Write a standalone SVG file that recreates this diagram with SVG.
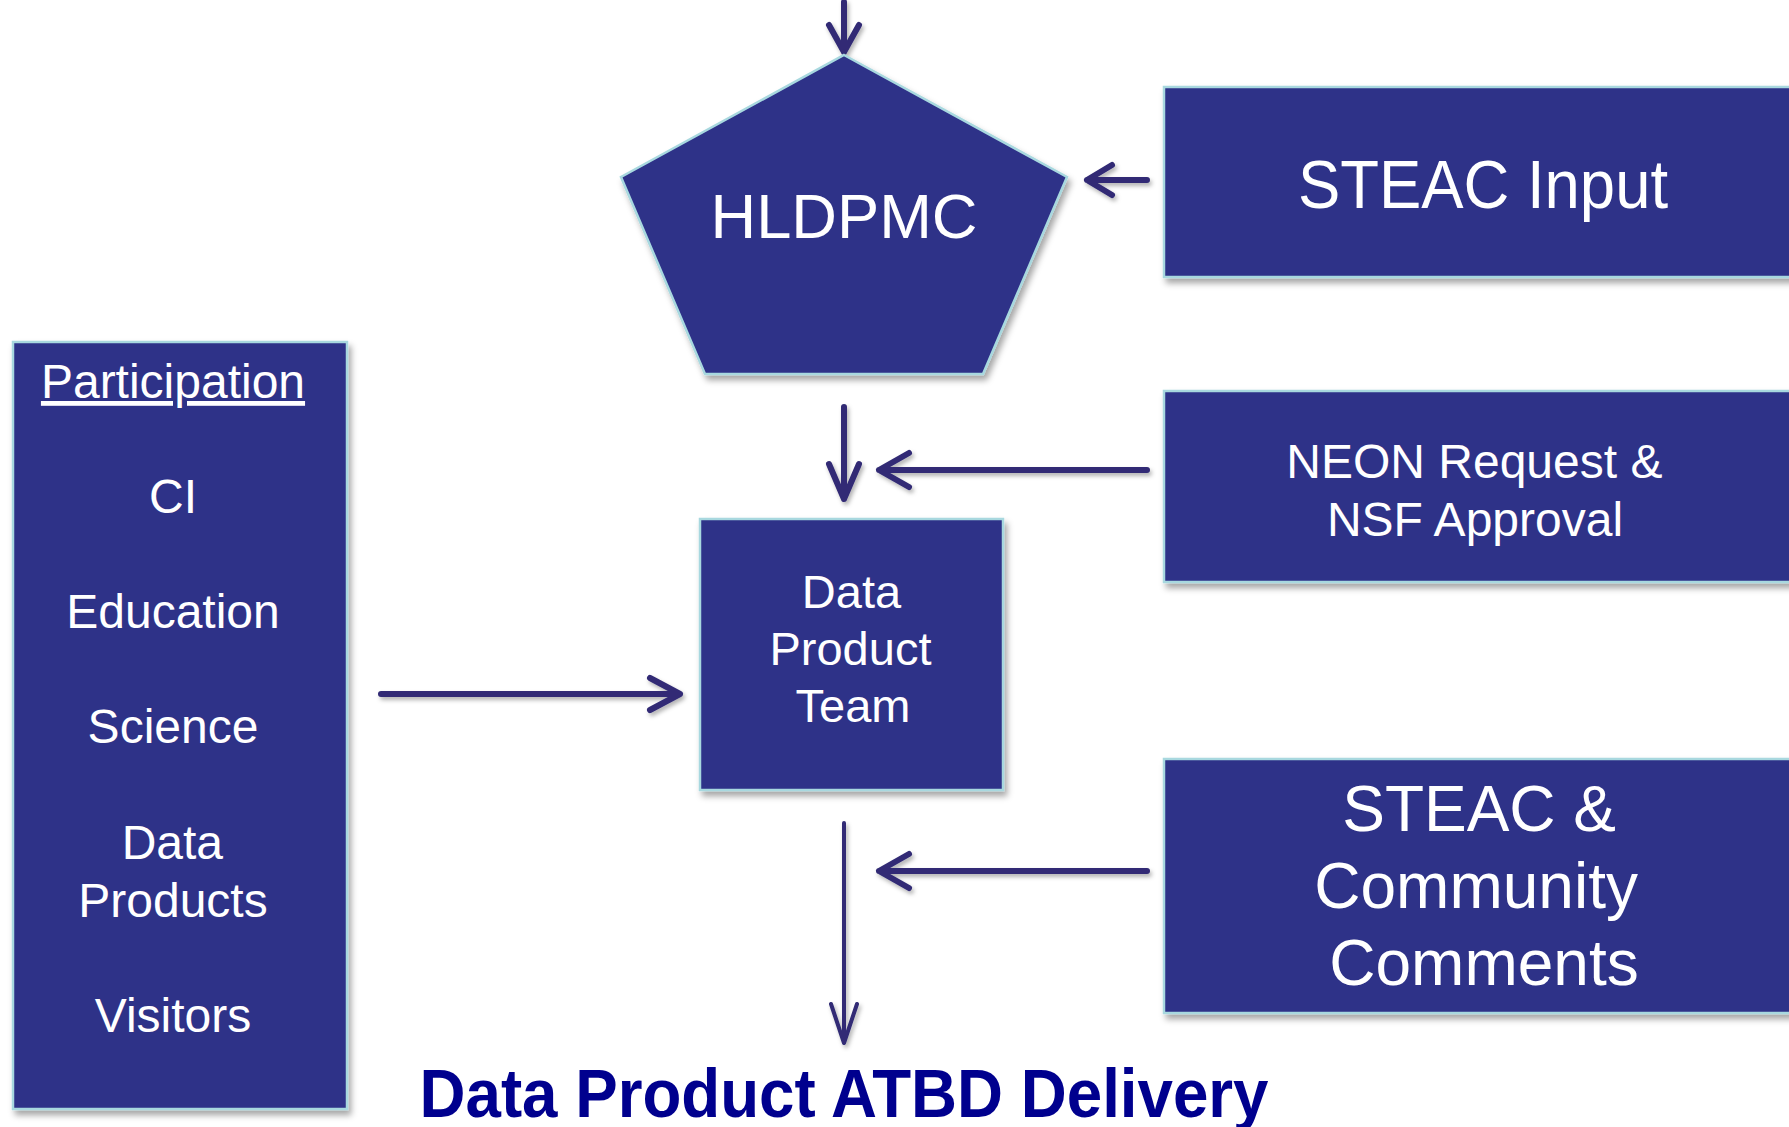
<svg xmlns="http://www.w3.org/2000/svg" width="1789" height="1127" viewBox="0 0 1789 1127">
  <defs>
    <filter id="shadow" x="-5%" y="-5%" width="112%" height="112%">
      <feDropShadow dx="3" dy="5" stdDeviation="3" flood-color="#000" flood-opacity="0.35"/>
    </filter>
    <filter id="lineShadow" x="-5%" y="-20%" width="110%" height="160%">
      <feDropShadow dx="2" dy="3" stdDeviation="2" flood-color="#000" flood-opacity="0.3"/>
    </filter>
  </defs>
  <style>
    .box { fill: #2E3088; stroke: #A8D8DF; stroke-width: 2.5; filter: url(#shadow); }
    .lbl { fill: #FFFFFF; font-family: "Liberation Sans", Arial, sans-serif; text-anchor: middle; }
    .conn { fill: none; stroke: #312B74; stroke-linecap: round; stroke-linejoin: round; }
    .thick { stroke-width: 6; }
    .thin { stroke-width: 4; }
    .title { fill: #00008E; font-family: "Liberation Sans", Arial, sans-serif; font-weight: bold; text-anchor: middle; }
  </style>
  <rect width="1789" height="1127" fill="#FFFFFF"/>

  <!-- Connectors -->
  <g id="connectors" filter="url(#lineShadow)">
    <!-- incoming arrow into HLDPMC from above -->
    <path class="conn thick" d="M844 2 V52 M829 25 L844 52 L859 25"/>
    <!-- STEAC Input to HLDPMC -->
    <path class="conn thick" d="M1147 180 H1087 M1112 165 L1087 180 L1112 195"/>
    <!-- HLDPMC down to Data Product Team -->
    <path class="conn thick" d="M844 407 V499 M829 464 L844 499 L859 464"/>
    <!-- NEON Request / NSF Approval feed -->
    <path class="conn thick" d="M1147 470 H879 M909 453 L879 470 L909 487"/>
    <!-- Participation to Data Product Team -->
    <path class="conn thick" d="M381 694 H680 M650 678 L680 694 L650 710"/>
    <!-- Data Product Team down to ATBD delivery -->
    <path class="conn thin" d="M844 823 V1043 M831 1004 L844 1043 L857 1004"/>
    <!-- STEAC & Community Comments feed -->
    <path class="conn thick" d="M1147 871 H879 M909 854 L879 871 L909 888"/>
  </g>

  <!-- HLDPMC pentagon -->
  <g id="hldpmc">
    <polygon class="box" points="844,55 1067,177 983,374 705,374 621,177"/>
    <text class="lbl" x="844" y="238" font-size="63" textLength="267" lengthAdjust="spacingAndGlyphs">HLDPMC</text>
  </g>

  <!-- STEAC Input -->
  <g id="steac-input">
    <rect class="box" x="1164" y="87" width="640" height="190"/>
    <text class="lbl" x="1483" y="208" font-size="68" textLength="370" lengthAdjust="spacingAndGlyphs">STEAC Input</text>
  </g>

  <!-- NEON Request & NSF Approval -->
  <g id="neon-request">
    <rect class="box" x="1164" y="391" width="640" height="191"/>
    <text class="lbl" font-size="48">
      <tspan x="1481" y="478">NEON Request &amp;</tspan>
      <tspan x="1475" y="536">NSF Approval</tspan>
    </text>
  </g>

  <!-- Data Product Team -->
  <g id="data-product-team">
    <rect class="box" x="700" y="519" width="303" height="271"/>
    <text class="lbl" font-size="47">
      <tspan x="858" y="608">Data</tspan>
      <tspan x="857" y="665">Product</tspan>
      <tspan x="853" y="722">Team</tspan>
    </text>
  </g>

  <!-- Participation list -->
  <g id="participation">
    <rect class="box" x="13" y="342" width="334" height="767"/>
    <text class="lbl" x="173" y="398" font-size="48" text-decoration="underline">Participation</text>
    <text class="lbl" x="173" y="513" font-size="48">CI</text>
    <text class="lbl" x="173" y="628" font-size="48">Education</text>
    <text class="lbl" x="173" y="743" font-size="48">Science</text>
    <text class="lbl" font-size="48">
      <tspan x="179" y="859">Data</tspan>
      <tspan x="173" y="917">Products</tspan>
    </text>
    <text class="lbl" x="173" y="1032" font-size="48">Visitors</text>
  </g>

  <!-- STEAC & Community Comments -->
  <g id="steac-community">
    <rect class="box" x="1164" y="759" width="640" height="254"/>
    <text class="lbl" font-size="64">
      <tspan x="1488" y="831">STEAC &amp;</tspan>
      <tspan x="1485" y="908">Community</tspan>
      <tspan x="1484" y="985">Comments</tspan>
    </text>
  </g>

  <!-- Final deliverable -->
  <g id="atbd-delivery">
    <text class="title" x="844" y="1117" font-size="68" textLength="849" lengthAdjust="spacingAndGlyphs">Data Product ATBD Delivery</text>
  </g>
</svg>
